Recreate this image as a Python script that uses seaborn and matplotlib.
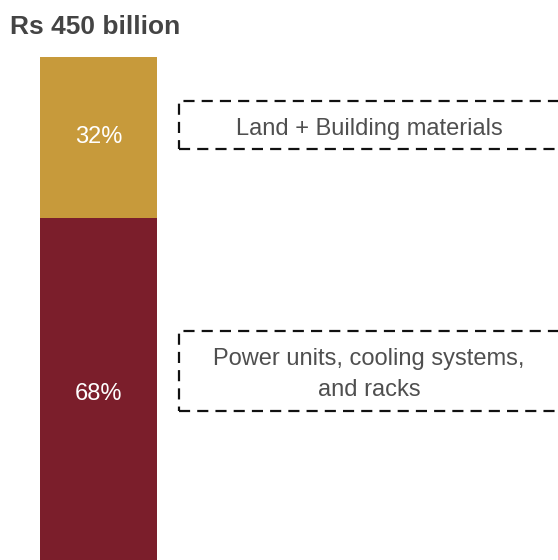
import numpy as np
import pandas as pd
import matplotlib
matplotlib.use("Agg")
import matplotlib.pyplot as plt
import seaborn as sns
from matplotlib.patches import Rectangle

# Data
segments = ["Power units, cooling systems,\nand racks", "Land + Building materials"]
shares = [68, 32]
seg_colors = ["#7B1E2B", "#C79A3B"]
title = "Rs 450 billion"

sns.set_theme(style="white")
plt.rcParams['font.family'] = ['Liberation Sans', 'DejaVu Sans']

W, H = 558, 560
fig = plt.figure(figsize=(W / 100, H / 100), dpi=100)

# axes spans from the bar top (y=57px) down to the image bottom
top_px = 57
ax = fig.add_axes([0, 0, 1, (H - top_px) / H])

cum = np.cumsum(shares)
df = pd.DataFrame({"x": ["total"], "top": [cum[-1]], "low": [cum[0]]})

# stacked look: full bar in gold, lower share over it in maroon
sns.barplot(data=df, x="x", y="top", color=seg_colors[1], saturation=1, width=0.8,
            linewidth=0, ax=ax)
sns.barplot(data=df, x="x", y="low", color=seg_colors[0], saturation=1, width=0.8,
            linewidth=0, ax=ax)

# map the bar to pixels 40..157
unit = 117 / 0.8
center = 98.5
ax.set_xlim(-center / unit, (W - center) / unit)
ax.set_ylim(0, 100)
ax.axis("off")

# percentage labels in segment centres
bottoms = [0, cum[0]]
for s, b in zip(shares, bottoms):
    ax.text(0, b + s / 2 - (1 if b == 0 else 0), f"{s}%", ha="center", va="center",
            color="white", fontsize=17)

fig.text(10 / W, 1 - 27 / H, title, ha="left", va="center", fontsize=19,
         fontweight="bold", color="#444444")

# dashed boxes (extending off the right edge)
boxes = [(101, 149, segments[1]), (331, 411, segments[0])]
for y0, y1, label in boxes:
    rect = Rectangle((179 / W, 1 - y1 / H), (W + 20 - 179) / W, (y1 - y0) / H,
                     transform=fig.transFigure, fill=False, edgecolor="#111111",
                     linewidth=1.6, linestyle=(0, (5, 3.2)), clip_on=False)
    fig.add_artist(rect)
    fig.text(369 / W, 1 - ((y0 + y1) / 2 + 3.5) / H, label, ha="center", va="center",
             fontsize=17, color="#4f4f4f", linespacing=1.55)

fig.savefig("out.png", dpi=100)
